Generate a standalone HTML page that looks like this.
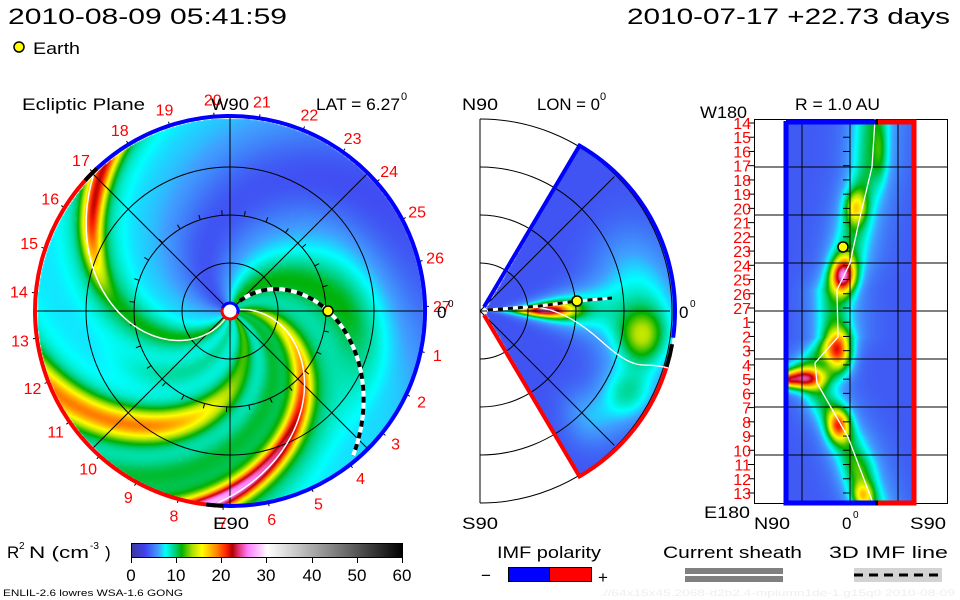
<!DOCTYPE html>
<html><head><meta charset="utf-8">
<style>
html,body{margin:0;padding:0;background:#fff;}
#wrap{position:relative;width:960px;height:600px;overflow:hidden;background:#fff;}
canvas,svg{position:absolute;left:0;top:0;}
text{font-family:"Liberation Sans",sans-serif;}
</style></head>
<body>
<div id="wrap">
<canvas id="cv" width="960" height="600"></canvas>
<svg id="sv" width="960" height="600" viewBox="0 0 960 600" xmlns="http://www.w3.org/2000/svg">
<g id="dyn"></g>
<text x="8" y="24" font-size="22" textLength="279" lengthAdjust="spacingAndGlyphs">2010-08-09 05:41:59</text>
<text x="627" y="24" font-size="22" textLength="323" lengthAdjust="spacingAndGlyphs">2010-07-17 +22.73 days</text>
<circle cx="19" cy="47" r="5" fill="#ffff00" stroke="#000" stroke-width="1.5"/>
<text x="33" y="54" font-size="17" textLength="47" lengthAdjust="spacingAndGlyphs">Earth</text>
<text x="22" y="110" font-size="17" textLength="123" lengthAdjust="spacingAndGlyphs">Ecliptic Plane</text>
<text x="211" y="110" font-size="17" textLength="38" lengthAdjust="spacingAndGlyphs">W90</text>
<text x="316" y="110" font-size="17" textLength="84" lengthAdjust="spacingAndGlyphs">LAT = 6.27</text>
<text x="401" y="100" font-size="11">0</text>
<text x="213" y="529" font-size="17" textLength="36" lengthAdjust="spacingAndGlyphs">E90</text>
<text x="437" y="318" font-size="17">0</text><text x="448" y="307" font-size="10">0</text>
<text x="462" y="110" font-size="17" textLength="36" lengthAdjust="spacingAndGlyphs">N90</text>
<text x="537" y="110" font-size="17" textLength="63" lengthAdjust="spacingAndGlyphs">LON = 0</text>
<text x="600" y="100" font-size="11">0</text>
<text x="462" y="529" font-size="17" textLength="36" lengthAdjust="spacingAndGlyphs">S90</text>
<text x="679" y="318" font-size="17">0</text><text x="690" y="307" font-size="10">0</text>
<text x="700" y="118" font-size="17" textLength="47" lengthAdjust="spacingAndGlyphs">W180</text>
<text x="795" y="110" font-size="17" textLength="85" lengthAdjust="spacingAndGlyphs">R = 1.0 AU</text>
<text x="704" y="518" font-size="17" textLength="46" lengthAdjust="spacingAndGlyphs">E180</text>
<text x="754" y="529" font-size="17" textLength="36" lengthAdjust="spacingAndGlyphs">N90</text>
<text x="842" y="529" font-size="17">0</text><text x="853" y="518" font-size="10">0</text>
<text x="910" y="529" font-size="17" textLength="36" lengthAdjust="spacingAndGlyphs">S90</text>
<text x="7" y="558" font-size="17">R</text><text x="19" y="549" font-size="10">2</text>
<text x="29" y="558" font-size="17" textLength="60" lengthAdjust="spacingAndGlyphs">N (cm</text>
<text x="90" y="549" font-size="10">-3</text>
<text x="105" y="558" font-size="17">)</text>
<defs>
<linearGradient id="cb" x1="0" x2="1" y1="0" y2="0">
<stop offset="0" stop-color="#3a3a9a"/><stop offset="0.05" stop-color="#4040f0"/>
<stop offset="0.1" stop-color="#40a0ff"/><stop offset="0.125" stop-color="#00ffff"/>
<stop offset="0.16" stop-color="#00d080"/><stop offset="0.185" stop-color="#00b000"/>
<stop offset="0.225" stop-color="#b0e000"/><stop offset="0.26" stop-color="#ffff00"/>
<stop offset="0.31" stop-color="#ff9000"/><stop offset="0.35" stop-color="#ff2000"/>
<stop offset="0.372" stop-color="#b00000"/><stop offset="0.395" stop-color="#e03070"/>
<stop offset="0.43" stop-color="#ff80ff"/><stop offset="0.485" stop-color="#ffe0ff"/>
<stop offset="0.5" stop-color="#ffffff"/><stop offset="1" stop-color="#000000"/>
</linearGradient>
</defs>
<rect x="131.5" y="543.5" width="271" height="14" fill="url(#cb)" stroke="#000"/>
<g stroke="#000" stroke-width="1">
<line x1="131.5" y1="557" x2="131.5" y2="563"/><line x1="176.5" y1="557" x2="176.5" y2="563"/>
<line x1="221.5" y1="557" x2="221.5" y2="563"/><line x1="266.5" y1="557" x2="266.5" y2="563"/>
<line x1="312.5" y1="557" x2="312.5" y2="563"/><line x1="357.5" y1="557" x2="357.5" y2="563"/>
<line x1="402.5" y1="557" x2="402.5" y2="563"/>
</g>
<g font-size="17" text-anchor="middle">
<text x="131" y="581">0</text><text x="176" y="581">10</text><text x="221" y="581">20</text>
<text x="266" y="581">30</text><text x="312" y="581">40</text><text x="357" y="581">50</text><text x="402" y="581">60</text>
</g>
<text x="3" y="596" font-size="9" textLength="180" lengthAdjust="spacingAndGlyphs">ENLIL-2.6 lowres WSA-1.6 GONG</text>
<text x="600" y="596" font-size="9" fill="#eeeeee" textLength="355" lengthAdjust="spacingAndGlyphs">.//64x15x45.2068-d2b2.4-mplumn1de-1.g15q0   2010-08-09</text>
<text x="497" y="558" font-size="17" textLength="104" lengthAdjust="spacingAndGlyphs">IMF polarity</text>
<text x="481" y="581" font-size="17">−</text>
<rect x="508.5" y="567.5" width="41" height="14" fill="#0000ff" stroke="#000"/>
<rect x="549.5" y="567.5" width="42" height="14" fill="#ff0000" stroke="#000"/>
<text x="598" y="583" font-size="17">+</text>
<text x="663" y="558" font-size="17" textLength="139" lengthAdjust="spacingAndGlyphs">Current sheath</text>
<rect x="685" y="568" width="98" height="6" fill="#808080"/>
<rect x="685" y="576" width="98" height="6" fill="#808080"/>
<text x="829" y="558" font-size="17" textLength="119" lengthAdjust="spacingAndGlyphs">3D IMF line</text>
<rect x="854" y="568" width="88" height="14" fill="#d3d3d3"/>
<line x1="854" y1="575" x2="942" y2="575" stroke="#000" stroke-width="3" stroke-dasharray="9,6"/>
</svg>
</div>
<script>
(function(){
var cv=document.getElementById('cv'),ctx=cv.getContext('2d');
var img=ctx.createImageData(960,600),D=img.data;
for(var i=0;i<D.length;i+=4){D[i]=255;D[i+1]=255;D[i+2]=255;D[i+3]=255;}
var stops=[[0,[58,58,154]],[3,[64,64,240]],[6,[64,160,255]],[7.5,[0,255,255]],[9.6,[0,208,128]],[11.1,[0,176,0]],[13.5,[176,224,0]],[15.6,[255,255,0]],[18.6,[255,144,0]],[21,[255,32,0]],[22.3,[176,0,0]],[23.7,[224,48,112]],[25.8,[255,128,255]],[29,[255,224,255]],[30,[255,255,255]],[60,[0,0,0]]];
function cmap(v){if(v<=0)return stops[0][1];for(var i=1;i<stops.length;i++){if(v<=stops[i][0]){var a=stops[i-1],b=stops[i],t=(v-a[0])/(b[0]-a[0]);return [a[1][0]+(b[1][0]-a[1][0])*t,a[1][1]+(b[1][1]-a[1][1])*t,a[1][2]+(b[1][2]-a[1][2])*t];}}return [0,0,0];}
function g(d,s){return Math.exp(-(d/s)*(d/s));}
function ad(a,b){return ((a-b)%360+540)%360-180;}
function ss(a,b,x){var t=Math.min(1,Math.max(0,(x-a)/(b-a)));return t*t*(3-2*t);}
function put(x,y,v){var c=cmap(v),k=(y*960+x)*4;D[k]=c[0];D[k+1]=c[1];D[k+2]=c[2];}
var cx=230,cy=311,R=193;
for(var y=cy-R;y<=cy+R;y++)for(var x=cx-R;x<=cx+R;x++){
 var dx=x-cx,dy=y-cy,r=Math.sqrt(dx*dx+dy*dy);if(r>R||r<8)continue;
 var phi=Math.atan2(dy,dx)*180/Math.PI;var psi=phi-0.56*r;
 var v=7.0;
 v-=3.4*g(ad(psi,212),36);
 v+=4*g(ad(psi,295),24)*(1-ss(110,180,r));
 v-=1.5*g(ad(psi,250),25)*ss(120,185,r);
 var dA=ad(psi,-12);var A=Math.min(28,11+r*0.09);
 v+=(A-12)*g(dA,6+6/(1+r/30))+4.5*g(dA,20);
 var dB=ad(psi,121);var B=10+11*ss(110,175,r);
 v+=(B-9)*g(dB,7)+3*g(dB,17);
 var dC=ad(psi,47);v+=(3+7*ss(50,150,r))*g(dC,11)+2*g(dC,22);
 v+=2.5*g(ad(psi,15),10);
 v+=2*g(ad(psi,85),12)*(1-ss(80,150,r));
 put(x,y,v);
}
var mx=484,my=311;
for(var y=my-R;y<=my+R;y++)for(var x=mx;x<=mx+R;x++){
 var dx=x-mx,dy=y-my,r=Math.sqrt(dx*dx+dy*dy);if(r>190||r<3)continue;
 var th=Math.atan2(dy,dx)*180/Math.PI;if(Math.abs(th)>60)continue;
 var v=3.6;
 v+=17*g(th+1,6)*g(r-60,28)+5*g(th+1,13)*g(r-80,60);
 v+=4.5*g(th-6,22)*g(r-160,40);
 v+=5.5*g(th-9,9)*g(r-160,22);
 v+=4*g(th-30,9)*g(r-165,25);
 v+=2.5*g(th-45,10)*g(r-150,30);
 v+=1.5*g(th+20,15)*g(r-150,40);
 put(x,y,v);
}
var pts=[[119,875],[167,872],[217,860],[263,850],[290,837],[337,838],[363,815],[383,817],[437,848],[503,873]];
function px(y){for(var i=1;i<pts.length;i++){if(y<=pts[i][0]){var a=pts[i-1],b=pts[i],t=(y-a[0])/(b[0]-a[0]);return a[1]+(b[1]-a[1])*t;}}return 873;}
var blobs=[[843,275,12,18,16],[838,352,13,20,14],[800,378,22,10,16],[788,380,7,6,5],[838,425,11,16,11],[855,207,10,16,7],[862,495,10,12,7],[880,150,7,30,3],[860,470,15,20,2]];
for(var y=122;y<=501;y++)for(var x=787;x<=912;x++){
 var v=3.8+4.5*g(x-px(y)+4,17)+2*g(x-px(y),32);
 for(var j=0;j<blobs.length;j++){var b=blobs[j];v+=b[4]*g(x-b[0],b[2])*g(y-b[1],b[3]);}
 put(x,y,v);
}
ctx.putImageData(img,0,0);
var ns='http://www.w3.org/2000/svg',G=document.getElementById('dyn');
function el(t,a,p){var e=document.createElementNS(ns,t);for(var k in a)e.setAttribute(k,a[k]);(p||G).appendChild(e);return e;}
function P(x,y,r,a){a=a*Math.PI/180;return [x+r*Math.cos(a),y+r*Math.sin(a)];}
function arc(x,y,r,a1,a2){var p1=P(x,y,r,a1),p2=P(x,y,r,a2);var big=Math.abs(a2-a1)>180?1:0;return 'M'+p1[0]+' '+p1[1]+' A'+r+' '+r+' 0 '+big+' 1 '+p2[0]+' '+p2[1];}
[48,96,144].forEach(function(r){el('circle',{cx:cx,cy:cy,r:r,fill:'none',stroke:'#000','stroke-width':1});});
[0,45,90,135].forEach(function(a){var p1=P(cx,cy,R,a),p2=P(cx,cy,R,a+180);el('line',{x1:p1[0],y1:p1[1],x2:p2[0],y2:p2[1],stroke:'#000','stroke-width':1});});
for(var n=0;n<27;n++){var a=12+13.333*n;var p1=P(cx,cy,96,a),p2=P(cx,cy,101,a);el('line',{x1:p1[0],y1:p1[1],x2:p2[0],y2:p2[1],stroke:'#000'});
 var q1=P(cx,cy,194,a),q2=P(cx,cy,199,a);el('line',{x1:q1[0],y1:q1[1],x2:q2[0],y2:q2[1],stroke:'#000'});
 var t=P(cx,cy,212,a);var tx=el('text',{x:t[0],y:t[1]+6,'font-size':16,fill:'#ff0000','text-anchor':'middle'});tx.textContent=(n+1);}
function spiral(ps,r0,r1,k){var d='';for(var r=r0;r<=r1;r+=2){var p=P(cx,cy,r,ps+k*r);d+=(d?'L':'M')+p[0].toFixed(1)+' '+p[1].toFixed(1);}return d;}
el('path',{d:spiral(-14,10,192,0.56),fill:'none',stroke:'#fff','stroke-width':1.5});
el('path',{d:spiral(117,10,192,0.56),fill:'none',stroke:'#fff','stroke-width':1.5});
var imf=spiral(-53,14,190,0.54);
el('path',{d:imf,fill:'none',stroke:'#fff','stroke-width':4});
el('path',{d:imf,fill:'none',stroke:'#000','stroke-width':4,'stroke-dasharray':'6,6'});
el('path',{d:arc(cx,cy,195,227,457),fill:'none',stroke:'#0000ff','stroke-width':4});
el('path',{d:arc(cx,cy,195,97,227),fill:'none',stroke:'#ff0000','stroke-width':4});
el('path',{d:arc(cx,cy,195,222,227),fill:'none',stroke:'#000','stroke-width':4});
el('path',{d:arc(cx,cy,195,92,97),fill:'none',stroke:'#000','stroke-width':4});
el('circle',{cx:cx,cy:cy,r:8,fill:'#fff'});
el('path',{d:arc(cx,cy,8,200,380),fill:'none',stroke:'#0000ff','stroke-width':3});
el('path',{d:arc(cx,cy,8,20,200),fill:'none',stroke:'#ff0000','stroke-width':3});
el('circle',{cx:328,cy:311,r:5,fill:'#ffff00',stroke:'#000','stroke-width':1.5});
el('line',{x1:480,y1:119,x2:480,y2:503,stroke:'#000'});
[48,96,144,192].forEach(function(r){el('path',{d:arc(480,311,r,-90,90),fill:'none',stroke:'#000'});});
[-45,0,45].forEach(function(a){var p=P(480,311,190,a);el('line',{x1:480,y1:311,x2:p[0],y2:p[1],stroke:'#000'});});
var pa=P(484,311,191,-60),pb=P(484,311,191,60),pc=P(484,311,191,8);
el('path',{d:'M484 307 L'+pa[0]+' '+pa[1]+' A191 191 0 0 1 '+pc[0]+' '+pc[1].toFixed(1),fill:'none',stroke:'#0000ff','stroke-width':4});
el('path',{d:'M484 315 L'+pb[0]+' '+pb[1]+' A191 191 0 0 0 '+P(484,311,191,17).join(' '),fill:'none',stroke:'#ff0000','stroke-width':4});
el('path',{d:arc(484,311,191,10,17),fill:'none',stroke:'#000','stroke-width':4});
el('path',{d:'M487 311 C530 302 560 304 600 340 S640 360 668 368',fill:'none',stroke:'#fff','stroke-width':1.3});
el('path',{d:'M488 310 L540 306 L577 301 L612 298',fill:'none',stroke:'#fff','stroke-width':3});
el('path',{d:'M488 310 L540 306 L577 301 L612 298',fill:'none',stroke:'#000','stroke-width':3,'stroke-dasharray':'5,5'});
el('circle',{cx:577,cy:301,r:5,fill:'#ffff00',stroke:'#000','stroke-width':1.5});
el('rect',{x:754.5,y:119.5,width:193,height:384,fill:'none',stroke:'#000'});
[167,215,263,311,359,407,455].forEach(function(y){el('line',{x1:754,y1:y,x2:947,y2:y,stroke:'#000'});});
[802,850,898].forEach(function(x){el('line',{x1:x,y1:119,x2:x,y2:503,stroke:'#000'});});
var labs=[14,15,16,17,18,19,20,21,22,23,24,25,26,27,1,2,3,4,5,6,7,8,9,10,11,12,13];
labs.forEach(function(l,i){var y=123+i*14.23;el('line',{x1:748,y1:y,x2:754,y2:y,stroke:'#000'});el('line',{x1:843,y1:y,x2:850,y2:y,stroke:'#000'});
 var t=el('text',{x:751,y:y+6,'font-size':16,fill:'#ff0000','text-anchor':'end'});t.textContent=l;});
var wd='';pts.forEach(function(p,i){wd+=(i?'L':'M')+p[1]+' '+p[0];});
el('path',{d:wd,fill:'none',stroke:'#fff','stroke-width':1.3});
el('path',{d:'M786 122 L875 122 M786 121 L786 503 L875 503',fill:'none',stroke:'#0000ff','stroke-width':5});
el('path',{d:'M878 122 L914 122 L914 503 L878 503',fill:'none',stroke:'#ff0000','stroke-width':5});
el('path',{d:'M875 122 L878 122 M875 503 L878 503',fill:'none',stroke:'#000','stroke-width':5});
el('circle',{cx:843,cy:247,r:5,fill:'#ffff00',stroke:'#000','stroke-width':1.5});
})();
</script>
</body></html>
